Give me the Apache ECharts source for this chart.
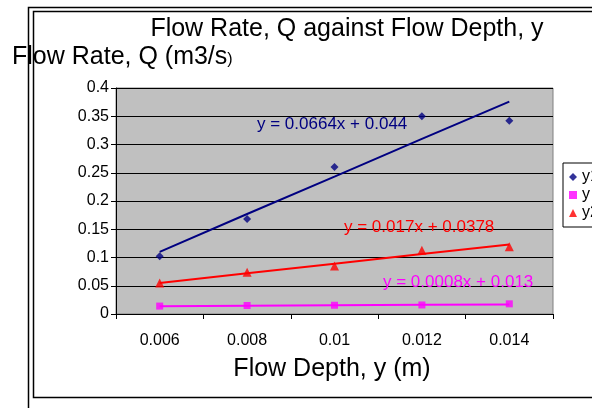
<!DOCTYPE html>
<html lang="en">
<head>
<meta charset="UTF-8">
<title>Flow Rate, Q against Flow Depth, y</title>
<script src="https://cdn.jsdelivr.net/npm/echarts@6.0.0/dist/echarts.min.js"></script>
<style>
  html, body { margin: 0; padding: 0; background: #fff; }
  #chart { width: 592px; height: 408px; }
</style>
</head>
<body>
<div id="chart"></div>
<script>
// flow depth categories (x axis)
const depths = ['0.006', '0.008', '0.01', '0.012', '0.014'];

// measured flow rates
const y1 = [0.102, 0.168, 0.26, 0.35, 0.342];
const y3 = [0.014, 0.015, 0.0155, 0.016, 0.018];
const y2 = [0.055, 0.074, 0.085, 0.113, 0.119];

// linear trendlines
const y1Trend = [0.110, 0.177, 0.243, 0.310, 0.376];
const y3Trend = [0.0138, 0.0146, 0.0154, 0.0162, 0.017];
const y2Trend = [0.055, 0.072, 0.089, 0.106, 0.123];

const font = "'Liberation Sans', Arial, sans-serif";

const chart = echarts.init(document.getElementById('chart'));
chart.setOption({
  animation: false,
  textStyle: { fontFamily: font },
  grid: {
    left: 116, right: 39, top: 88, bottom: 94,
    show: true, backgroundColor: '#C0C0C0', borderColor: '#808080', borderWidth: 1
  },
  xAxis: {
    type: 'category',
    data: depths,
    boundaryGap: true,
    axisLine: { lineStyle: { color: '#000', width: 1 } },
    axisTick: { show: true, interval: 0, length: 5, lineStyle: { color: '#000' } },
    axisLabel: { color: '#000', fontSize: 16, margin: 19, fontFamily: font },
    splitLine: { show: false }
  },
  yAxis: {
    type: 'value',
    min: 0, max: 0.4, interval: 0.05,
    axisLine: { show: true, lineStyle: { color: '#000', width: 1 } },
    axisTick: { show: true, length: 5, lineStyle: { color: '#000' } },
    axisLabel: { color: '#000', fontSize: 16, margin: 7, fontFamily: font },
    splitLine: { show: true, lineStyle: { color: '#000', width: 1 } }
  },
  legend: {
    orient: 'vertical',
    left: 563, top: 163,
    itemWidth: 8, itemHeight: 8, itemGap: 2,
    padding: [6, 4, 6, 6],
    borderColor: '#000', borderWidth: 1,
    backgroundColor: '#fff',
    textStyle: { fontSize: 16, color: '#000', fontFamily: font },
    data: [
      { name: 'y1', icon: 'diamond' },
      { name: 'y', icon: 'rect' },
      { name: 'y2', icon: 'triangle' }
    ]
  },
  series: [
    { name: 'trend1', type: 'line', data: y1Trend, symbol: 'none',
      lineStyle: { color: '#000080', width: 2 }, z: 3 },
    { name: 'trend3', type: 'line', data: y3Trend, symbol: 'none',
      lineStyle: { color: '#FF00FF', width: 2 }, z: 3 },
    { name: 'trend2', type: 'line', data: y2Trend, symbol: 'none',
      lineStyle: { color: '#FF0000', width: 2 }, z: 3 },
    { name: 'y1', type: 'scatter', data: y1, symbol: 'diamond', symbolSize: 8,
      itemStyle: { color: '#000080' }, z: 4 },
    { name: 'y', type: 'scatter', data: y3, symbol: 'rect', symbolSize: 7,
      itemStyle: { color: '#FF00FF' }, z: 4 },
    { name: 'y2', type: 'scatter', data: y2, symbol: 'triangle', symbolSize: 9,
      itemStyle: { color: '#FF0000' }, z: 4 }
  ],
  graphic: [
    // outer and inner frames
    { type: 'rect', shape: { x: 28.5, y: 7.5, width: 700, height: 500 },
      style: { fill: 'none', stroke: '#000', lineWidth: 1.5 }, z: 0 },
    { type: 'rect', shape: { x: 33.5, y: 11.5, width: 700, height: 386 },
      style: { fill: 'none', stroke: '#000', lineWidth: 1.5 }, z: 0 },
    // titles
    { type: 'text', x: 347, y: 29, z: 10,
      style: { text: 'Flow Rate, Q against Flow Depth, y', font: '25px ' + font,
        fill: '#000', textAlign: 'center', textVerticalAlign: 'middle' } },
    { type: 'text', x: 12, y: 57, z: 10,
      style: { text: 'Flow Rate, Q (m3/s{s|)}', font: '25px ' + font, fill: '#000',
        textAlign: 'left', textVerticalAlign: 'middle',
        rich: { s: { fontSize: 16, fontFamily: font, padding: [6, 0, 0, 0] } } } },
    { type: 'text', x: 332, y: 369, z: 10,
      style: { text: 'Flow Depth, y (m)', font: '25px ' + font,
        fill: '#000', textAlign: 'center', textVerticalAlign: 'middle' } },
    // trendline equations
    { type: 'text', x: 257, y: 124, z: 10,
      style: { text: 'y = 0.0664x + 0.044', font: '17px ' + font, fill: '#000080',
        textAlign: 'left', textVerticalAlign: 'middle' } },
    { type: 'text', x: 344, y: 227, z: 10,
      style: { text: 'y = 0.017x + 0.0378', font: '17px ' + font, fill: '#FF0000',
        textAlign: 'left', textVerticalAlign: 'middle' } },
    { type: 'text', x: 383, y: 282, z: 10,
      style: { text: 'y = 0.0008x + 0.013', font: '17px ' + font, fill: '#FF00FF',
        textAlign: 'left', textVerticalAlign: 'middle' } }
  ]
});
</script>
</body>
</html>
